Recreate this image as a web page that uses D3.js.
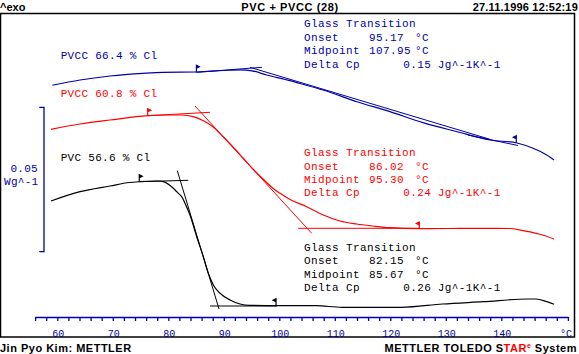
<!DOCTYPE html>
<html>
<head>
<meta charset="utf-8">
<script src="https://cdn.jsdelivr.net/npm/d3@7"></script>
<style>
  body { margin: 0; background: #fff; }
  svg { display: block; }
  .mono { font-family: "Liberation Mono", "DejaVu Sans Mono", monospace; }
  .bold { font-family: "Liberation Sans", Arial, sans-serif; font-weight: bold; }
</style>
</head>
<body>
<div id="chart"></div>
<script>
// temperature in degC, heat flow in mW/g (offset per curve as in the plot)
var pvcc664 = [[59.10, 80.23], [64.09, 82.06], [69.50, 83.45], [75.44, 84.38], [79.05, 84.73],
  [85.17, 84.83], [89.86, 85.35], [92.92, 85.60], [95.08, 85.25], [97.73, 83.80],
  [101.93, 81.82], [103.73, 80.85], [107.87, 78.60], [114.00, 74.55], [119.94, 71.09],
  [125.89, 67.28], [132.02, 64.16], [137.96, 61.29], [142.83, 60.25], [145.71, 58.41],
  [147.87, 56.44], [149.50, 54.36]];

var pvcc608 = [[58.86, 64.99], [64.09, 66.83], [69.50, 68.21], [76.29, 69.70], [79.71, 69.94],
  [82.41, 69.94], [84.50, 69.36], [86.31, 67.97], [88.11, 65.79], [89.86, 62.50],
  [91.66, 58.86], [93.46, 55.06], [95.26, 51.25], [97.06, 47.78], [98.68, 44.84],
  [100.13, 42.83], [101.93, 40.69], [104.94, 38.19], [107.93, 35.32], [110.94, 33.24],
  [113.95, 32.20], [116.88, 31.51], [119.94, 30.92], [125.35, 30.57], [130.76, 30.64],
  [135.62, 30.71], [141.57, 30.64], [143.91, 29.88], [146.97, 28.64], [149.50, 27.01]];

var pvc566 = [[58.86, 40.17], [64.09, 43.39], [69.50, 45.36], [72.97, 46.57], [74.77, 46.85],
  [78.20, 47.09], [79.10, 46.85], [80.90, 44.56], [81.51, 43.39], [82.59, 41.10],
  [83.01, 39.37], [83.91, 35.32], [85.12, 27.80], [86.31, 20.88], [87.21, 15.13],
  [88.11, 11.08], [89.32, 8.21], [91.12, 5.89], [92.92, 4.50], [94.72, 4.05],
  [99.95, 3.91], [106.61, 3.91], [111.30, 3.36], [122.04, 3.36], [129.41, 4.50],
  [136.77, 5.30], [144.81, 6.23], [146.25, 6.23], [148.18, 5.30], [149.50, 4.40]];

// evaluation tangents: [T1, v1, T2, v2]
var tangents664 = [[85.06, 84.73, 96.88, 86.46], [94.72, 86.46, 137.96, 61.53], [134.0, 63.02, 143.0, 59.38]];
var tangents608 = [[76.29, 69.70, 87.51, 70.88], [84.81, 73.06, 105.84, 28.98], [103.42, 30.71, 125.35, 30.71]];
var tangents566 = [[74.77, 46.85, 83.60, 47.33], [81.62, 50.66, 89.14, 2.77], [87.51, 3.81, 99.59, 3.81]];

// evaluation limits: [T, v, flag direction]
var limits664 = [[85.06, 84.73, 1], [142.70, 60.35, -1]];
var limits608 = [[76.29, 69.70, 1], [125.23, 30.47, -1]];
var limits566 = [[74.77, 46.85, 1], [99.41, 3.91, -1]];

var curveNames = ["PVCC 66.4 % Cl", "PVCC 60.8 % Cl", "PVC 56.6 % Cl"];
var onsets = ["95.17", "86.02", "82.15"];
var midpoints = ["107.95", "95.30", "85.67"];
var deltaCps = ["0.15", "0.24", "0.26"];
var tempLabels = [60, 70, 80, 90, 100, 110, 120, 130, 140];
var scaleBar = [72.61, 50];   // top value and length (mW/g) of the 0.05 Wg^-1 bar

var colors = ["#0000aa", "#ff0000", "#000000"];
var width = 579, height = 354;

var svg = d3.select("#chart").append("svg")
    .attr("width", width)
    .attr("height", height);

var x = d3.scaleLinear().domain([56, 152]).range([35.1, 567.9]);
var y = d3.scaleLinear().domain([0, 105]).range([317, 317 - 105 * 2.888]);

// frame
svg.append("rect")
    .attr("x", 0.5).attr("y", 13.5)
    .attr("width", 574).attr("height", 323.5)
    .attr("fill", "none").attr("stroke", "#000").attr("stroke-width", 1.5);

// header
svg.append("text").attr("class", "bold").attr("x", 0).attr("y", 10.5)
    .attr("font-size", 11).text("^exo");
svg.append("text").attr("class", "bold").attr("x", 290).attr("y", 10.5)
    .attr("font-size", 11).attr("text-anchor", "middle").attr("letter-spacing", 0.6)
    .text("PVC + PVCC (28)");
svg.append("text").attr("class", "bold").attr("x", 578).attr("y", 10.5)
    .attr("font-size", 11).attr("text-anchor", "end").attr("letter-spacing", 0.2)
    .text("27.11.1996 12:52:19");

// footer
svg.append("text").attr("class", "bold").attr("x", 0).attr("y", 351.5)
    .attr("font-size", 11).attr("letter-spacing", 0.5).text("Jin Pyo Kim: METTLER");
var foot = svg.append("text").attr("class", "bold").attr("x", 577).attr("y", 351.5)
    .attr("font-size", 11).attr("letter-spacing", 0.5).attr("text-anchor", "end");
foot.append("tspan").text("METTLER TOLEDO S");
foot.append("tspan").attr("fill", "#ff0000").text("TAR");
foot.append("tspan").attr("fill", "#ff0000").attr("font-size", 7).attr("dy", -4).text("e");
foot.append("tspan").attr("dy", 4).text(" System");

// temperature axis
var g = svg.append("g");
g.append("g")
    .attr("transform", "translate(0,317)")
    .call(d3.axisBottom(x).tickValues(d3.range(56, 153, 2)).tickSize(4).tickSizeOuter(0).tickFormat(""))
    .call(function(a) {
        a.selectAll("path, line").attr("stroke", colors[0]).attr("stroke-width", 1.3);
    });

g.selectAll(".tlab")
    .data(tempLabels)
    .enter().append("text")
    .attr("class", "tlab mono")
    .attr("x", function(d) { return x(d) + 1; })
    .attr("y", 337)
    .attr("text-anchor", "middle")
    .attr("font-size", 10)
    .attr("fill", colors[0])
    .text(function(d) { return d; });

g.append("text").attr("class", "mono")
    .attr("x", 572).attr("y", 337).attr("text-anchor", "end")
    .attr("font-size", 10).attr("fill", colors[0]).text("°C");

// 0.05 Wg^-1 scale bar
var yTop = y(scaleBar[0]), yBot = y(scaleBar[0] - scaleBar[1]);
svg.append("path")
    .attr("d", "M39.3," + yTop + "H44V" + yBot + "H39.3")
    .attr("fill", "none").attr("stroke", colors[0]).attr("stroke-width", 1.3);
svg.append("text").attr("class", "mono").attr("x", 38).attr("y", 171.7)
    .attr("text-anchor", "end").attr("font-size", 11).attr("letter-spacing", 0.3)
    .attr("fill", colors[0]).text("0.05");
svg.append("text").attr("class", "mono").attr("x", 38.5).attr("y", 185)
    .attr("text-anchor", "end").attr("font-size", 11).attr("letter-spacing", 0.3)
    .attr("fill", colors[0]).text("Wg^-1");

// curves
var line = d3.line()
    .x(function(d) { return x(d[0]); })
    .y(function(d) { return y(d[1]); })
    .curve(d3.curveMonotoneX);

var curves = [pvcc664, pvcc608, pvc566];
var tangents = [tangents664, tangents608, tangents566];
var limits = [limits664, limits608, limits566];

curves.forEach(function(c, i) {
    svg.append("path")
        .datum(c)
        .attr("d", line)
        .attr("fill", "none")
        .attr("stroke", colors[i])
        .attr("stroke-width", 1.2);

    svg.selectAll(".tan" + i)
        .data(tangents[i])
        .enter().append("line")
        .attr("x1", function(d) { return x(d[0]); })
        .attr("y1", function(d) { return y(d[1]); })
        .attr("x2", function(d) { return x(d[2]); })
        .attr("y2", function(d) { return y(d[3]); })
        .attr("stroke", colors[i])
        .attr("stroke-width", 1);

    svg.selectAll(".lim" + i)
        .data(limits[i])
        .enter().append("path")
        .attr("d", function(d) {
            var px = x(d[0]), py = y(d[1]);
            return "M" + px + "," + py + "V" + (py - 7) + "L" + (px + 3 * d[2]) + "," + (py - 5.5) + "L" + px + "," + (py - 4);
        })
        .attr("fill", colors[i])
        .attr("stroke", colors[i])
        .attr("stroke-width", 1.2);
});

// curve names
var nameY = [59.3, 97.3, 160.7];
curveNames.forEach(function(n, i) {
    svg.append("text").attr("class", "mono")
        .attr("x", 60.7).attr("y", nameY[i])
        .attr("font-size", 11).attr("letter-spacing", 0.3)
        .attr("fill", colors[i]).text(n);
});

// glass transition annotations
var blockY = [27.3, 156, 250.7];
blockY.forEach(function(by, i) {
    var a = svg.append("g").attr("class", "mono")
        .attr("font-size", 11).attr("letter-spacing", 0.4).attr("fill", colors[i]);
    a.append("text").attr("x", 304).attr("y", by).text("Glass Transition");
    a.append("text").attr("x", 304).attr("y", by + 13.5).text("Onset");
    a.append("text").attr("x", 369).attr("y", by + 13.5).text(onsets[i]);
    a.append("text").attr("x", 415).attr("y", by + 13.5).text("°C");
    a.append("text").attr("x", 304).attr("y", by + 27).text("Midpoint");
    a.append("text").attr("x", 369).attr("y", by + 27).text(midpoints[i]);
    a.append("text").attr("x", 415).attr("y", by + 27).text("°C");
    a.append("text").attr("x", 304).attr("y", by + 40.3).text("Delta Cp");
    a.append("text").attr("x", 403.3).attr("y", by + 40.3).text(deltaCps[i]);
    a.append("text").attr("x", 437.7).attr("y", by + 40.3).text("Jg^-1K^-1");
});
</script>
</body>
</html>
